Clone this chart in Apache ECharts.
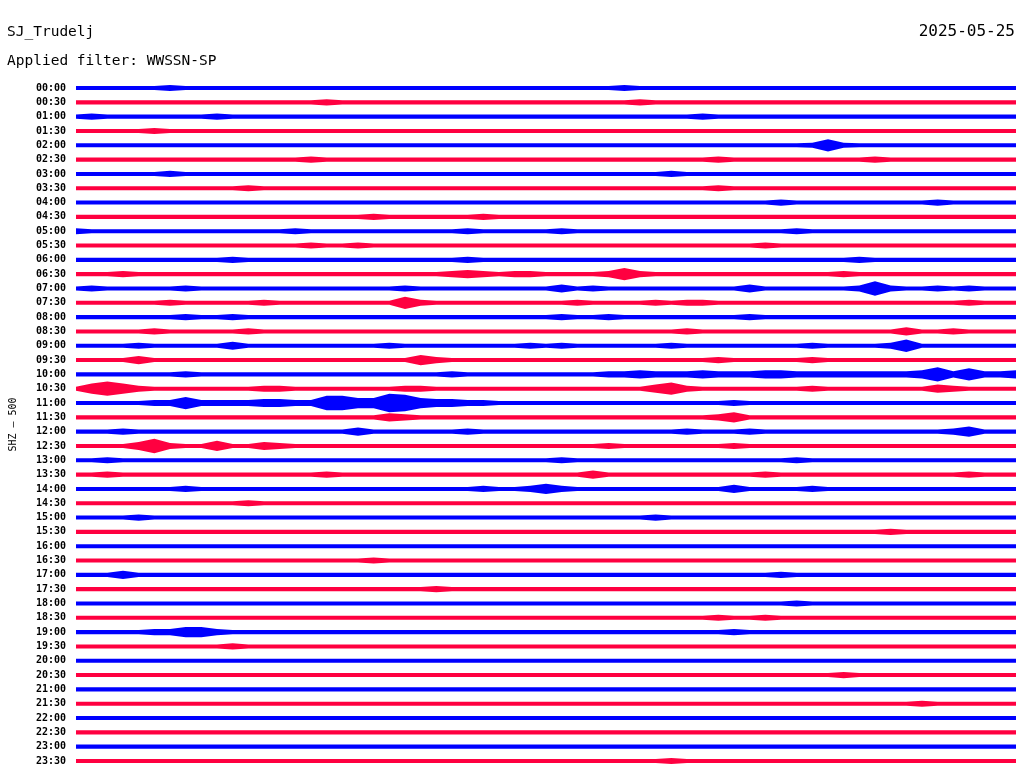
<!DOCTYPE html>
<html><head><meta charset="utf-8">
<script src="https://cdn.jsdelivr.net/npm/echarts@6/dist/echarts.min.js"></script>
<style>html,body{margin:0;padding:0;background:#fff}#c{width:1024px;height:780px}</style>
</head><body><div id="c"></div>
<script>
const station = 'SJ_Trudelj';
const dateText = '2025-05-25';
const filterText = 'Applied filter: WWSSN-SP';
const channelText = 'SHZ \u2013 500';

// sample times within each 30-minute row (seconds)
const sampleSec = [0,30,60,90,120,150,180,210,240,270, 300,330,360,390,420,450,480,510,540,570, 600,630,660,690,720,750,780,810,840,870, 900,930,960,990,1020,1050,1080,1110,1140,1170, 1200,1230,1260,1290,1320,1350,1380,1410,1440,1470, 1500,1530,1560,1590,1620,1650,1680,1710,1740,1770, 1800];

const rowLabels = ['00:00','00:30','01:00','01:30','02:00','02:30','03:00','03:30','04:00','04:30','05:00','05:30','06:00','06:30','07:00','07:30','08:00','08:30','09:00','09:30','10:00','10:30','11:00','11:30','12:00','12:30','13:00','13:30','14:00','14:30','15:00','15:30','16:00','16:30','17:00','17:30','18:00','18:30','19:00','19:30','20:00','20:30','21:00','21:30','22:00','22:30','23:00','23:30'];

// envelope half-amplitude of each row, read per 30 s
const h0000=[2,2,2,2,2,2,3,2,2,2, 2,2,2,2,2,2,2,2,2,2, 2,2,2,2,2,2,2,2,2,2, 2,2,2,2,2,3,2,2,2,2, 2,2,2,2,2,2,2,2,2,2, 2,2,2,2,2,2,2,2,2,2, 2];
const h0030=[2,2,2,2,2,2,2,2,2,2, 2,2,2,2,2,2,3,2,2,2, 2,2,2,2,2,2,2,2,2,2, 2,2,2,2,2,2,3,2,2,2, 2,2,2,2,2,2,2,2,2,2, 2,2,2,2,2,2,2,2,2,2, 2];
const h0100=[2,3,2,2,2,2,2,2,2,3, 2,2,2,2,2,2,2,2,2,2, 2,2,2,2,2,2,2,2,2,2, 2,2,2,2,2,2,2,2,2,2, 3,2,2,2,2,2,2,2,2,2, 2,2,2,2,2,2,2,2,2,2, 2];
const h0130=[2,2,2,2,2,3,2,2,2,2, 2,2,2,2,2,2,2,2,2,2, 2,2,2,2,2,2,2,2,2,2, 2,2,2,2,2,2,2,2,2,2, 2,2,2,2,2,2,2,2,2,2, 2,2,2,2,2,2,2,2,2,2, 2];
const h0200=[2,2,2,2,2,2,2,2,2,2, 2,2,2,2,2,2,2,2,2,2, 2,2,2,2,2,2,2,2,2,2, 2,2,2,2,2,2,2,2,2,2, 2,2,2,2,2,2,2,2.5,6,2.5, 2,2,2,2,2,2,2,2,2,2, 2];
const h0230=[2,2,2,2,2,2,2,2,2,2, 2,2,2,2,2,3,2,2,2,2, 2,2,2,2,2,2,2,2,2,2, 2,2,2,2,2,2,2,2,2,2, 2,3,2,2,2,2,2,2,2,2, 2,3,2,2,2,2,2,2,2,2, 2];
const h0300=[2,2,2,2,2,2,3,2,2,2, 2,2,2,2,2,2,2,2,2,2, 2,2,2,2,2,2,2,2,2,2, 2,2,2,2,2,2,2,2,3,2, 2,2,2,2,2,2,2,2,2,2, 2,2,2,2,2,2,2,2,2,2, 2];
const h0330=[2,2,2,2,2,2,2,2,2,2, 2,3,2,2,2,2,2,2,2,2, 2,2,2,2,2,2,2,2,2,2, 2,2,2,2,2,2,2,2,2,2, 2,3,2,2,2,2,2,2,2,2, 2,2,2,2,2,2,2,2,2,2, 2];
const h0400=[2,2,2,2,2,2,2,2,2,2, 2,2,2,2,2,2,2,2,2,2, 2,2,2,2,2,2,2,2,2,2, 2,2,2,2,2,2,2,2,2,2, 2,2,2,2,2,3,2,2,2,2, 2,2,2,2,2,3,2,2,2,2, 2];
const h0430=[2,2,2,2,2,2,2,2,2,2, 2,2,2,2,2,2,2,2,2,3, 2,2,2,2,2,2,3,2,2,2, 2,2,2,2,2,2,2,2,2,2, 2,2,2,2,2,2,2,2,2,2, 2,2,2,2,2,2,2,2,2,2, 2];
const h0500=[3,2,2,2,2,2,2,2,2,2, 2,2,2,2,3,2,2,2,2,2, 2,2,2,2,2,3,2,2,2,2, 2,3,2,2,2,2,2,2,2,2, 2,2,2,2,2,2,3,2,2,2, 2,2,2,2,2,2,2,2,2,2, 2];
const h0530=[2,2,2,2,2,2,2,2,2,2, 2,2,2,2,2,3,2,2,3,2, 2,2,2,2,2,2,2,2,2,2, 2,2,2,2,2,2,2,2,2,2, 2,2,2,2,3,2,2,2,2,2, 2,2,2,2,2,2,2,2,2,2, 2];
const h0600=[2,2,2,2,2,2,2,2,2,2, 3,2,2,2,2,2,2,2,2,2, 2,2,2,2,2,3,2,2,2,2, 2,2,2,2,2,2,2,2,2,2, 2,2,2,2,2,2,2,2,2,2, 3,2,2,2,2,2,2,2,2,2, 2];
const h0630=[2,2,2,3,2,2,2,2,2,2, 2,2,2,2,2,2,2,2,2,2, 2,2,2,2,3,4,3,2,3,3, 2,2,2,2,3,6,3,2,2,2, 2,2,2,2,2,2,2,2,2,3, 2,2,2,2,2,2,2,2,2,2, 2];
const h0700=[2,3,2,2,2,2,2,3,2,2, 2,2,2,2,2,2,2,2,2,2, 2,3,2,2,2,2,2,2,2,2, 2,4,2,3,2,2,2,2,2,2, 2,2,2,4,2,2,2,2,2,2, 3,7,3,2,2,3,2,3,2,2, 2];
const h0730=[2,2,2,2,2,2,3,2,2,2, 2,2,3,2,2,2,2,2,2,2, 2,6,3,2,2,2,2,2,2,2, 2,2,3,2,2,2,2,3,2,3, 3,2,2,2,2,2,2,2,2,2, 2,2,2,2,2,2,2,3,2,2, 2];
const h0800=[2,2,2,2,2,2,2,3,2,2, 3,2,2,2,2,2,2,2,2,2, 2,2,2,2,2,2,2,2,2,2, 2,3,2,2,3,2,2,2,2,2, 2,2,2,3,2,2,2,2,2,2, 2,2,2,2,2,2,2,2,2,2, 2];
const h0830=[2,2,2,2,2,3,2,2,2,2, 2,3,2,2,2,2,2,2,2,2, 2,2,2,2,2,2,2,2,2,2, 2,2,2,2,2,2,2,2,2,3, 2,2,2,2,2,2,2,2,2,2, 2,2,2,4,2,2,3,2,2,2, 2];
const h0900=[2,2,2,2,3,2,2,2,2,2, 4,2,2,2,2,2,2,2,2,2, 3,2,2,2,2,2,2,2,2,3, 2,3,2,2,2,2,2,2,3,2, 2,2,2,2,2,2,2,3,2,2, 2,2,3,6,2,2,2,2,2,2, 2];
const h0930=[2,2,2,2,4,2,2,2,2,2, 2,2,2,2,2,2,2,2,2,2, 2,2,5,3,2,2,2,2,2,2, 2,2,2,2,2,2,2,2,2,2, 2,3,2,2,2,2,2,3,2,2, 2,2,2,2,2,2,2,2,2,2, 2];
const h1000=[2,2,2,2,2,2,2,3,2,2, 2,2,2,2,2,2,2,2,2,2, 2,2,2,2,3,2,2,2,2,2, 2,2,2,2,3,3,4,3,3,3, 4,3,3,3,4,4,3,3,3,3, 3,3,3,3,4,7,3,6,3,3, 4];
const h1030=[2,5,7,5,3,2,2,2,2,2, 2,2,3,3,2,2,2,2,2,2, 2,3,3,2,2,2,2,2,2,2, 2,2,2,2,2,2,2,4,6,3, 2,2,2,2,2,2,2,3,2,2, 2,2,2,2,2,4,3,2,2,2, 2];
const h1100=[2,2,2,2,2,3,3,6,3,3, 3,3,4,4,3,3,7,7,5,5, 9,8,5,4,4,3,3,2,2,2, 2,2,2,2,2,2,2,2,2,2, 2,2,3,2,2,2,2,2,2,2, 2,2,2,2,2,2,2,2,2,2, 2];
const h1130=[2,2,2,2,2,2,2,2,2,2, 2,2,2,2,2,2,2,2,2,2, 4,3,2,2,2,2,2,2,2,2, 2,2,2,2,2,2,2,2,2,2, 2,3,5,2,2,2,2,2,2,2, 2,2,2,2,2,2,2,2,2,2, 2];
const h1200=[2,2,2,3,2,2,2,2,2,2, 2,2,2,2,2,2,2,2,4,2, 2,2,2,2,2,3,2,2,2,2, 2,2,2,2,2,2,2,2,2,3, 2,2,2,3,2,2,2,2,2,2, 2,2,2,2,2,2,3,5,2,2, 2];
const h1230=[2,2,2,2,4,7,3,2,2,5, 2,2,4,3,2,2,2,2,2,2, 2,2,2,2,2,2,2,2,2,2, 2,2,2,2,3,2,2,2,2,2, 2,2,3,2,2,2,2,2,2,2, 2,2,2,2,2,2,2,2,2,2, 2];
const h1300=[2,2,3,2,2,2,2,2,2,2, 2,2,2,2,2,2,2,2,2,2, 2,2,2,2,2,2,2,2,2,2, 2,3,2,2,2,2,2,2,2,2, 2,2,2,2,2,2,3,2,2,2, 2,2,2,2,2,2,2,2,2,2, 2];
const h1330=[2,2,3,2,2,2,2,2,2,2, 2,2,2,2,2,2,3,2,2,2, 2,2,2,2,2,2,2,2,2,2, 2,2,2,4,2,2,2,2,2,2, 2,2,2,2,3,2,2,2,2,2, 2,2,2,2,2,2,2,3,2,2, 2];
const h1400=[2,2,2,2,2,2,2,3,2,2, 2,2,2,2,2,2,2,2,2,2, 2,2,2,2,2,2,3,2,2,3, 5,3,2,2,2,2,2,2,2,2, 2,2,4,2,2,2,2,3,2,2, 2,2,2,2,2,2,2,2,2,2, 2];
const h1430=[2,2,2,2,2,2,2,2,2,2, 2,3,2,2,2,2,2,2,2,2, 2,2,2,2,2,2,2,2,2,2, 2,2,2,2,2,2,2,2,2,2, 2,2,2,2,2,2,2,2,2,2, 2,2,2,2,2,2,2,2,2,2, 2];
const h1500=[2,2,2,2,3,2,2,2,2,2, 2,2,2,2,2,2,2,2,2,2, 2,2,2,2,2,2,2,2,2,2, 2,2,2,2,2,2,2,3,2,2, 2,2,2,2,2,2,2,2,2,2, 2,2,2,2,2,2,2,2,2,2, 2];
const h1530=[2,2,2,2,2,2,2,2,2,2, 2,2,2,2,2,2,2,2,2,2, 2,2,2,2,2,2,2,2,2,2, 2,2,2,2,2,2,2,2,2,2, 2,2,2,2,2,2,2,2,2,2, 2,2,3,2,2,2,2,2,2,2, 2];
const h1600=[2,2,2,2,2,2,2,2,2,2, 2,2,2,2,2,2,2,2,2,2, 2,2,2,2,2,2,2,2,2,2, 2,2,2,2,2,2,2,2,2,2, 2,2,2,2,2,2,2,2,2,2, 2,2,2,2,2,2,2,2,2,2, 2];
const h1630=[2,2,2,2,2,2,2,2,2,2, 2,2,2,2,2,2,2,2,2,3, 2,2,2,2,2,2,2,2,2,2, 2,2,2,2,2,2,2,2,2,2, 2,2,2,2,2,2,2,2,2,2, 2,2,2,2,2,2,2,2,2,2, 2];
const h1700=[2,2,2,4,2,2,2,2,2,2, 2,2,2,2,2,2,2,2,2,2, 2,2,2,2,2,2,2,2,2,2, 2,2,2,2,2,2,2,2,2,2, 2,2,2,2,2,3,2,2,2,2, 2,2,2,2,2,2,2,2,2,2, 2];
const h1730=[2,2,2,2,2,2,2,2,2,2, 2,2,2,2,2,2,2,2,2,2, 2,2,2,3,2,2,2,2,2,2, 2,2,2,2,2,2,2,2,2,2, 2,2,2,2,2,2,2,2,2,2, 2,2,2,2,2,2,2,2,2,2, 2];
const h1800=[2,2,2,2,2,2,2,2,2,2, 2,2,2,2,2,2,2,2,2,2, 2,2,2,2,2,2,2,2,2,2, 2,2,2,2,2,2,2,2,2,2, 2,2,2,2,2,2,3,2,2,2, 2,2,2,2,2,2,2,2,2,2, 2];
const h1830=[2,2,2,2,2,2,2,2,2,2, 2,2,2,2,2,2,2,2,2,2, 2,2,2,2,2,2,2,2,2,2, 2,2,2,2,2,2,2,2,2,2, 2,3,2,2,3,2,2,2,2,2, 2,2,2,2,2,2,2,2,2,2, 2];
const h1900=[2,2,2,2,2,3,3,5,5,3, 2,2,2,2,2,2,2,2,2,2, 2,2,2,2,2,2,2,2,2,2, 2,2,2,2,2,2,2,2,2,2, 2,2,3,2,2,2,2,2,2,2, 2,2,2,2,2,2,2,2,2,2, 2];
const h1930=[2,2,2,2,2,2,2,2,2,2, 3,2,2,2,2,2,2,2,2,2, 2,2,2,2,2,2,2,2,2,2, 2,2,2,2,2,2,2,2,2,2, 2,2,2,2,2,2,2,2,2,2, 2,2,2,2,2,2,2,2,2,2, 2];
const h2000=[2,2,2,2,2,2,2,2,2,2, 2,2,2,2,2,2,2,2,2,2, 2,2,2,2,2,2,2,2,2,2, 2,2,2,2,2,2,2,2,2,2, 2,2,2,2,2,2,2,2,2,2, 2,2,2,2,2,2,2,2,2,2, 2];
const h2030=[2,2,2,2,2,2,2,2,2,2, 2,2,2,2,2,2,2,2,2,2, 2,2,2,2,2,2,2,2,2,2, 2,2,2,2,2,2,2,2,2,2, 2,2,2,2,2,2,2,2,2,3, 2,2,2,2,2,2,2,2,2,2, 2];
const h2100=[2,2,2,2,2,2,2,2,2,2, 2,2,2,2,2,2,2,2,2,2, 2,2,2,2,2,2,2,2,2,2, 2,2,2,2,2,2,2,2,2,2, 2,2,2,2,2,2,2,2,2,2, 2,2,2,2,2,2,2,2,2,2, 2];
const h2130=[2,2,2,2,2,2,2,2,2,2, 2,2,2,2,2,2,2,2,2,2, 2,2,2,2,2,2,2,2,2,2, 2,2,2,2,2,2,2,2,2,2, 2,2,2,2,2,2,2,2,2,2, 2,2,2,2,3,2,2,2,2,2, 2];
const h2200=[2,2,2,2,2,2,2,2,2,2, 2,2,2,2,2,2,2,2,2,2, 2,2,2,2,2,2,2,2,2,2, 2,2,2,2,2,2,2,2,2,2, 2,2,2,2,2,2,2,2,2,2, 2,2,2,2,2,2,2,2,2,2, 2];
const h2230=[2,2,2,2,2,2,2,2,2,2, 2,2,2,2,2,2,2,2,2,2, 2,2,2,2,2,2,2,2,2,2, 2,2,2,2,2,2,2,2,2,2, 2,2,2,2,2,2,2,2,2,2, 2,2,2,2,2,2,2,2,2,2, 2];
const h2300=[2,2,2,2,2,2,2,2,2,2, 2,2,2,2,2,2,2,2,2,2, 2,2,2,2,2,2,2,2,2,2, 2,2,2,2,2,2,2,2,2,2, 2,2,2,2,2,2,2,2,2,2, 2,2,2,2,2,2,2,2,2,2, 2];
const h2330=[2,2,2,2,2,2,2,2,2,2, 2,2,2,2,2,2,2,2,2,2, 2,2,2,2,2,2,2,2,2,2, 2,2,2,2,2,2,2,2,3,2, 2,2,2,2,2,2,2,2,2,2, 2,2,2,2,2,2,2,2,2,2, 2];

const rows = [h0000,h0030,h0100,h0130,h0200,h0230,h0300,h0330,h0400,h0430,h0500,h0530,
  h0600,h0630,h0700,h0730,h0800,h0830,h0900,h0930,h1000,h1030,h1100,h1130,
  h1200,h1230,h1300,h1330,h1400,h1430,h1500,h1530,h1600,h1630,h1700,h1730,
  h1800,h1830,h1900,h1930,h2000,h2030,h2100,h2130,h2200,h2230,h2300,h2330];

const ROW = 14;               // vertical spacing between rows, in amplitude units
const FONT = '"DejaVu Sans Mono", monospace';
const BLUE = '#0000ff', RED = '#ff0040';

const series = [];
rows.forEach((amp, i) => {
  const col = i % 2 === 0 ? BLUE : RED;
  series.push({
    type: 'line', stack: 'row' + i, stackStrategy: 'all', silent: true,
    symbol: 'none', data: amp.map(a => -ROW * i - a),
    lineStyle: { opacity: 0 }
  });
  series.push({
    type: 'line', stack: 'row' + i, stackStrategy: 'all', silent: true,
    symbol: 'none', data: amp.map(a => 2 * a),
    lineStyle: { opacity: 0 },
    areaStyle: { color: col, opacity: 1 }
  });
});

const chart = echarts.init(document.getElementById('c'), null, { renderer: 'canvas' });
chart.setOption({
  animation: false,
  backgroundColor: '#ffffff',
  title: [
    { text: station, left: 7, top: 25, padding: 0, textStyle: { fontFamily: FONT, fontSize: 14.5, fontWeight: 'normal', color: '#000' } },
    { text: filterText, left: 7, top: 54, padding: 0, textStyle: { fontFamily: FONT, fontSize: 14.5, fontWeight: 'normal', color: '#000' } },
    { text: dateText, right: 9, top: 24, padding: 0, textStyle: { fontFamily: FONT, fontSize: 16, fontWeight: 'normal', color: '#000' } }
  ],
  grid: { left: 72, right: 8, top: 73.7, bottom: 4.7, containLabel: false },
  xAxis: { type: 'category', data: sampleSec, boundaryGap: false, show: false },
  yAxis: {
    type: 'value', min: -ROW * 48, max: ROW, interval: ROW,
    name: channelText, nameLocation: 'middle', nameRotate: 90, nameGap: 58,
    nameTextStyle: { fontFamily: FONT, fontSize: 10, color: '#000' },
    axisLine: { show: false }, axisTick: { show: false }, splitLine: { show: false },
    axisLabel: {
      margin: 10, fontFamily: FONT, fontSize: 10, fontWeight: 'bold', color: '#000',
      formatter: v => { const i = Math.round(-v / ROW); return (i >= 0 && i < rowLabels.length) ? rowLabels[i] : ''; }
    }
  },
  series: series
});
</script></body></html>
